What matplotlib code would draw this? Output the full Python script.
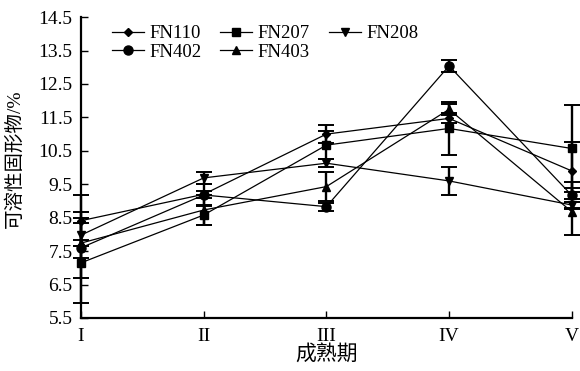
import matplotlib
matplotlib.use('Agg')
from matplotlib import pyplot as plt
from matplotlib.lines import Line2D
import numpy as np

plt.rcParams['font.family'] = ['Liberation Serif', 'Noto Sans CJK SC']

# maturity stages
stages = ['I', 'II', 'III', 'IV', 'V']

# soluble solids (%) per cultivar, with error values
fn110 = [8.41, 9.20, 11.00, 11.47, 9.90]
fn110_err = [0.77, 0.10, 0.27, 0.15, 0.85]
fn207 = [7.15, 8.58, 10.67, 11.17, 10.57]
fn207_err = [1.20, 0.30, 0.42, 0.80, 1.30]
fn208 = [7.98, 9.69, 10.13, 9.60, 8.88]
fn208_err = [0.68, 0.18, 0.12, 0.42, 0.10]
fn402 = [7.60, 9.18, 8.83, 13.04, 9.17]
fn402_err = [0.90, 0.33, 0.12, 0.17, 0.40]
fn403 = [7.74, 8.73, 9.43, 11.74, 8.68]
fn403_err = [0.10, 0.45, 0.44, 0.17, 0.70]

# legend order is column-wise: FN110/FN402, FN207/FN403, FN208
series = [
	('FN110', fn110, fn110_err, 'D', 4.5),
	('FN402', fn402, fn402_err, 'o', 6.5),
	('FN207', fn207, fn207_err, 's', 6),
	('FN403', fn403, fn403_err, '^', 6),
	('FN208', fn208, fn208_err, 'v', 6),
]

fig = plt.figure(figsize=(5.8, 3.71), dpi=100)
ax = fig.add_axes([0.1397, 0.1429, 0.846, 0.811])

x = np.arange(len(stages))
handles = []
for name, vals, err, mk, ms in series:
	ax.errorbar(x, vals, yerr=err, color='black', marker=mk, markersize=ms,
				linewidth=0.9, elinewidth=1.7, capsize=5.5, capthick=1.4,
				clip_on=False, zorder=3)
	handles.append(Line2D([], [], color='black', marker=mk, markersize=ms,
						  linewidth=0.9, label=name))

ax.set_xlim(0, 4.0)
ax.set_ylim(5.5, 14.5)
yt = np.arange(5.5, 14.6, 1.0)
ax.set_yticks(yt)
ax.set_yticklabels(['%.1f' % v for v in yt])
ax.set_xticks(x)
ax.set_xticklabels(stages)

for s in ['top', 'right']:
	ax.spines[s].set_visible(False)
for s in ['left', 'bottom']:
	ax.spines[s].set_linewidth(1.6)

ax.tick_params(direction='in', length=5, width=1.0, labelsize=14, pad=6)
ax.tick_params(axis='x', pad=7)

ax.set_xlabel('成熟期', fontsize=15, labelpad=0)
ax.set_ylabel('可溶性固形物/%', fontsize=14, labelpad=6)
ax.yaxis.set_label_coords(-0.116, 0.53)

ax.legend(handles=handles, ncol=3, loc='upper left', bbox_to_anchor=(0.04, 1.01),
		  frameon=False, fontsize=13.5, handlelength=1.7, handletextpad=0.3,
		  columnspacing=1.0, labelspacing=0.05, borderaxespad=0.2)

plt.savefig('out.png', dpi=100)
plt.close('all')
